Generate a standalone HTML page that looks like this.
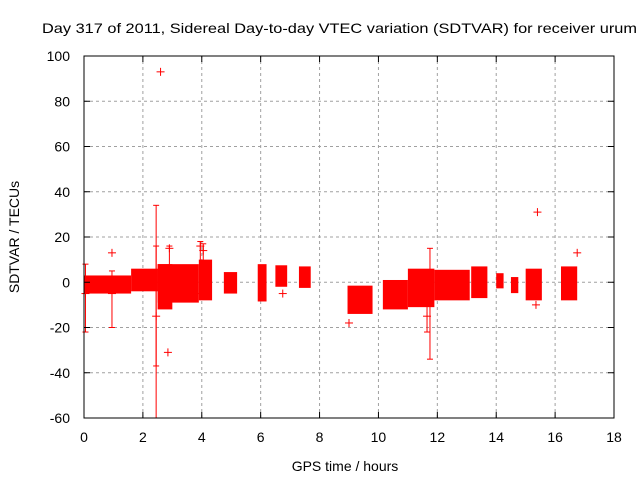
<!DOCTYPE html>
<html><head><meta charset="utf-8"><style>
body{margin:0;background:#fff}
svg{display:block;font-family:"Liberation Sans",sans-serif}
</style></head><body>
<svg id="chart" width="640" height="480" xmlns="http://www.w3.org/2000/svg">
<rect width="640" height="480" fill="#fff"/>
<text x="42" y="33" font-size="14" textLength="595" lengthAdjust="spacingAndGlyphs">Day 317 of 2011, Sidereal Day-to-day VTEC variation (SDTVAR) for receiver urum</text>
<g id="grid"></g>
<g id="marks"></g>
<rect x="84" y="56" width="530" height="362" fill="none" stroke="#000" stroke-width="1"/>
<g id="ticks"></g>
<text x="345" y="471" font-size="14" text-anchor="middle">GPS time / hours</text>
<text transform="translate(19,237) rotate(-90)" font-size="14" text-anchor="middle">SDTVAR / TECUs</text>
</svg>
<script>
const xTicks=[0,2,4,6,8,10,12,14,16,18];
const yTicks=[-60,-40,-20,0,20,40,60,80,100];
// dense clusters: start hour, end hour, low value, high value
const bandStart=[0,1.6,2.5,2.5,3.9,4.75,5.9,6.5,7.3,8.95,10.15,11.0,11.9,13.15,14.0,14.5,15.0,16.2];
const bandEnd=[1.6,2.5,3.9,3.0,4.35,5.2,6.2,6.9,7.7,9.8,11.0,11.9,13.1,13.7,14.25,14.75,15.55,16.75];
const bandLow=[-5,-4,-9,-12,-8,-5,-8.5,-2,-2.5,-14,-12,-11,-8,-7,-2.7,-4.8,-8,-8];
const bandHigh=[3,6,8,8,10,4.5,8,7.5,7,-1.5,1,6,5.5,7,4,2.3,6,7];
// individual points: hour, value, error-bar low, error-bar high
const ptT=[2.6,15.4,0.95,16.75,2.85,2.45,11.75,0.05,0.95,9.0,3.95,2.9,4.05,6.75,15.35,2.45,11.65];
const ptV=[93,31,13,13,-31,-15,0,-5,-5,-18,16,15,14,-5,-10,0,-15];
const ptLo=[93,31,13,13,-31,-60,-34,-22,-20,-18,-5,-5,-5,-5,-10,-37,-22];
const ptHi=[93,31,13,13,-31,34,15,8,5,-18,18,16,17,-5,-10,16,5];
const X0=84,X1=614,Y0=418,Y1=56;
const sx=t=>X0+(t-0)/18*(X1-X0);
const sy=v=>Y0-(v+60)/160*(Y0-Y1);
const NS="http://www.w3.org/2000/svg";
function mk(tag,attrs,parent){const e=document.createElementNS(NS,tag);for(const k in attrs)e.setAttribute(k,attrs[k]);parent.appendChild(e);return e;}
const grid=document.getElementById('grid'),ticks=document.getElementById('ticks'),marks=document.getElementById('marks');
xTicks.forEach(t=>{const x=sx(t);
 if(t>0&&t<18){const g=mk('line',{x1:x,x2:x,y1:Y0,y2:Y1,stroke:'#a0a0a0','stroke-dasharray':'3,3'},grid);
 
 }
 mk('line',{x1:x,x2:x,y1:Y0,y2:Y0-6,stroke:'#000'},ticks);mk('line',{x1:x,x2:x,y1:Y1,y2:Y1+6,stroke:'#000'},ticks);
 const l=mk('text',{x:x,y:Y0+24,'font-size':14,'text-anchor':'middle'},ticks);l.textContent=t;
 
 });
yTicks.forEach(v=>{const y=sy(v);
 if(v>-60&&v<100){const g=mk('line',{x1:X0,x2:X1,y1:y,y2:y,stroke:'#a0a0a0','stroke-dasharray':'3,3'},grid);
 
 }
 mk('line',{x1:X0,x2:X0+6,y1:y,y2:y,stroke:'#000'},ticks);mk('line',{x1:X1,x2:X1-6,y1:y,y2:y,stroke:'#000'},ticks);
 const l=mk('text',{x:X0-14,y:y+5,'font-size':14,'text-anchor':'end'},ticks);l.textContent=v;
 
 });
bandStart.forEach((s,i)=>{const x=sx(s),w=sx(bandEnd[i])-x,y=sy(bandHigh[i]),h=sy(bandLow[i])-y;
 const r=mk('rect',{x:x,y:y,width:w,height:h,fill:'#ff0000'},marks);
 
 });
ptT.forEach((t,i)=>{const x=sx(t),y=sy(ptV[i]);const g=mk('g',{stroke:'#ff0000','stroke-width':1},marks);
 
 
 if(ptLo[i]!==ptHi[i]){const yl=sy(ptLo[i]),yh=sy(ptHi[i]);
  mk('line',{x1:x,x2:x,y1:yl,y2:yh},g);mk('line',{x1:x-3,x2:x+3,y1:yl,y2:yl},g);mk('line',{x1:x-3,x2:x+3,y1:yh,y2:yh},g);}
 mk('line',{x1:x-4,x2:x+4,y1:y,y2:y},g);mk('line',{x1:x,x2:x,y1:y-4,y2:y+4},g);});
</script>
</body></html>
